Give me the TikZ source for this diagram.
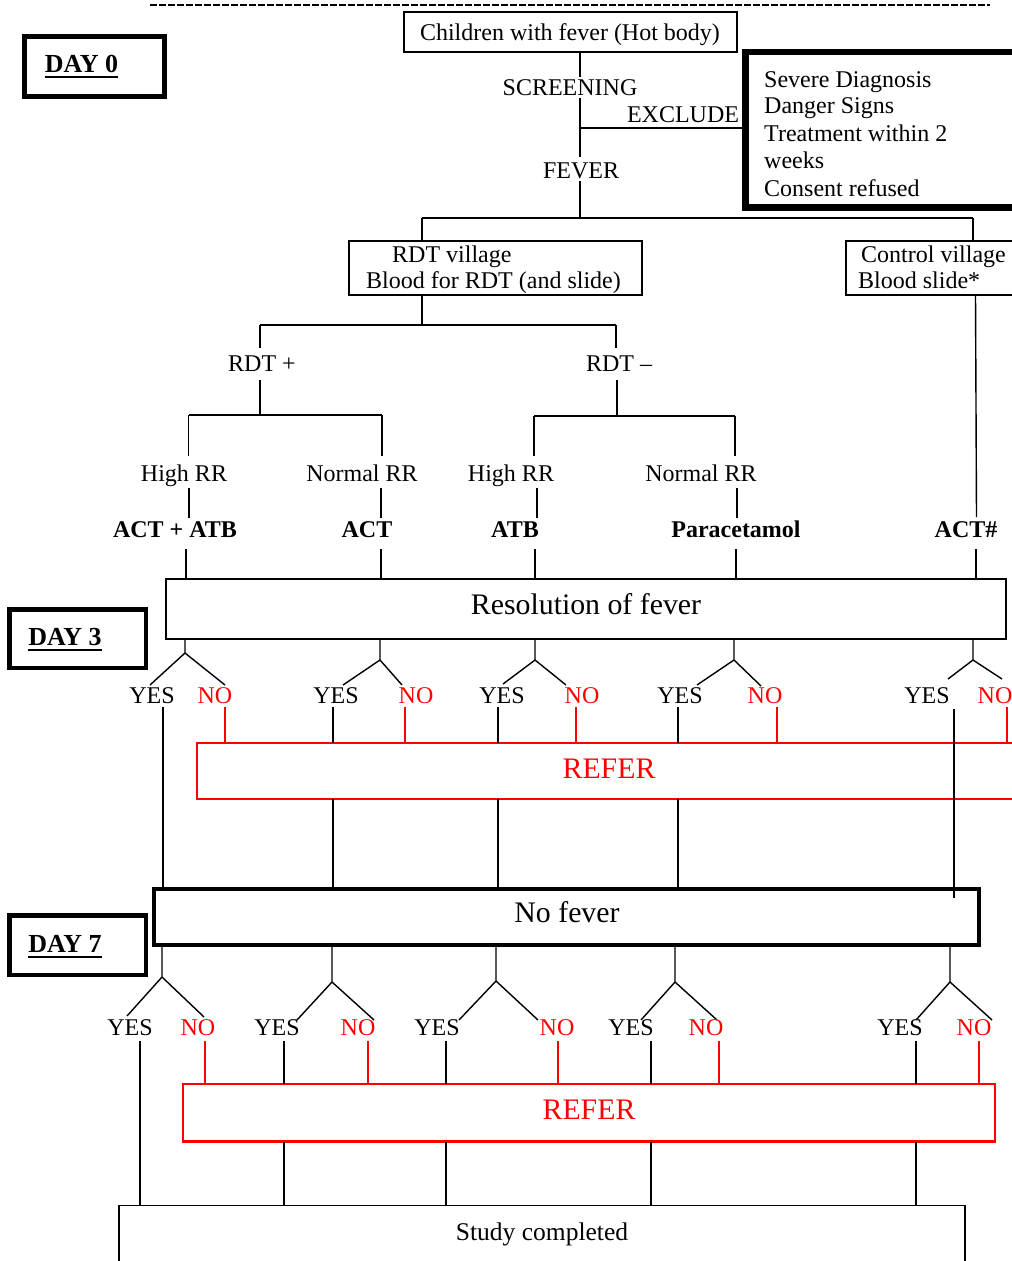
\documentclass[tikz,border=0pt]{standalone}
\usepackage{fontspec}
\setmainfont{Liberation Serif}
\definecolor{refred}{RGB}{255,0,0}
\begin{document}
\begin{tikzpicture}[x=1pt,y=-1pt,
  txt/.style={inner sep=0pt, text height=15.9pt, text depth=0pt, font=\fontsize{24}{27.5}\selectfont},
  boldtxt/.style={inner sep=0pt, text height=15.9pt, text depth=0pt, font=\fontsize{24}{27.5}\selectfont\bfseries},
  daytxt/.style={inner sep=0pt, text height=17.2pt, text depth=0pt, font=\fontsize{26}{30}\selectfont\bfseries},
  bigtxt/.style={inner sep=0pt, text height=19.7pt, text depth=0pt, font=\fontsize{29.8}{34}\selectfont},
  midtxt/.style={inner sep=0pt, text height=16.8pt, text depth=0pt, font=\fontsize{25.5}{30}\selectfont},
  box/.style={draw, inner sep=0pt},
  conn/.style={line width=1.4pt},
  redconn/.style={line width=1.4pt, draw=refred},
]
\useasboundingbox (0,0) rectangle (1012,1261);
\clip (0,0) rectangle (1012,1261);
\fill[white] (0,0) rectangle (1012,1261);

% top dashed rule
\coordinate (dl) at (150,5);
\coordinate (dr) at (990,5);
\draw[line width=1.8pt, dash pattern=on 7pt off 2pt] (dl) -- (dr);

% DAY boxes
\node[box, line width=5pt, minimum width=139.5pt, minimum height=60pt] (day0box) at (94.25,66.5) {};
\node[daytxt] (day0) at (81.5,64) {DAY 0};
\draw[line width=2.2pt] ([yshift=-4pt]day0.south west) -- ([yshift=-4pt]day0.south east);
\node[box, line width=4.5pt, minimum width=136.5pt, minimum height=58.5pt] (day3box) at (77.75,638.75) {};
\node[daytxt] (day3) at (65,637) {DAY 3};
\draw[line width=2.2pt] ([yshift=-4pt]day3.south west) -- ([yshift=-4pt]day3.south east);
\node[box, line width=4.5pt, minimum width=136.5pt, minimum height=59.5pt] (day7box) at (77.75,945.25) {};
\node[daytxt] (day7) at (65,944) {DAY 7};
\draw[line width=2.2pt] ([yshift=-4pt]day7.south west) -- ([yshift=-4pt]day7.south east);

% top box
\node[box, line width=1.5pt, minimum width=333pt, minimum height=40pt] (child) at (570.5,32) {};
\node[txt] (childtxt) at (570,32.5) {Children with fever (Hot body)};
\node[txt] (scr) at (570,87.5) {SCREENING};
\node[txt] (excl) at (683,115) {EXCLUDE};
\node[txt] (fev) at (581,171) {FEVER};

% exclusion box
\node[box, line width=6.5pt, minimum width=300pt, minimum height=155.5pt] (exbox) at (895.5,129.75) {};
\node[txt, anchor=west] (ex1) at (764,79.5) {Severe Diagnosis};
\node[txt, anchor=west] (ex2) at (764,106) {Danger Signs};
\node[txt, anchor=west] (ex3) at (764,133.5) {Treatment within 2};
\node[txt, anchor=west] (ex4) at (764,160.5) {weeks};
\node[txt, anchor=west] (ex5) at (764,188.5) {Consent refused};

% trunk
\coordinate (t0) at (580,53);
\coordinate (t1) at (580,77);
\coordinate (t2) at (580,98);
\coordinate (t3) at (580,157);
\coordinate (t4) at (580,181);
\coordinate (t5) at (580,218);
\coordinate (tex) at (580,128);
\coordinate (exl) at (742.5,128);
\draw[conn] (t0) -- (t1);
\draw[conn] (t2) -- (t3);
\draw[conn] (tex) -- (exl);
\draw[conn] (t4) -- (t5);
\coordinate (hl) at (422,218);
\coordinate (hr) at (973,218);
\draw[conn] (hl) -- (hr);

% villages
\node[box, line width=1.5pt, minimum width=293pt, minimum height=54pt] (rdt) at (495.5,268) {};
\node[txt, anchor=west] (rdt1) at (392,254.5) {RDT village};
\node[txt, anchor=west] (rdt2) at (366,280.5) {Blood for RDT (and slide)};
\node[box, line width=1.5pt, minimum width=200pt, minimum height=54pt] (ctl) at (946,268) {};
\node[txt, anchor=west] (ctl1) at (861,254.5) {Control village};
\node[txt, anchor=west] (ctl2) at (858,280.5) {Blood slide*};
\coordinate (rdttop) at (422,241);
\coordinate (ctltop) at (973,241);
\draw[conn] (hl) -- (rdttop);
\draw[conn] (hr) -- (ctltop);

% RDT split
\coordinate (r0) at (422,325);
\draw[conn] (422,295) -- (r0);
\draw[conn] (260,325) -- (616,325);
\node[txt] (rdtp) at (262,364) {RDT +};
\node[txt] (rdtm) at (619,364) {RDT \textendash};
\draw[conn] (260,325) -- (260,348);
\draw[conn] (616,325) -- (616,348);
\draw[conn] (260,380) -- (260,415);
\draw[conn] (617,380) -- (617,416);
\draw[conn] (188.5,415) -- (382,415);
\draw[conn] (534,416) -- (735,416);

\node[txt] (hrr1) at (184,474) {High RR};
\node[txt] (nrr1) at (362,474) {Normal RR};
\node[txt] (hrr2) at (511,474) {High RR};
\node[txt] (nrr2) at (701,474) {Normal RR};
\draw[conn] (188.5,415) -- (188.5,456);
\draw[conn] (382,415) -- (382,456);
\draw[conn] (534,416) -- (534,456);
\draw[conn] (735,416) -- (735,456);

\node[boldtxt] (tr1) at (175,530) {ACT + ATB};
\node[boldtxt] (tr2) at (367,530) {ACT};
\node[boldtxt] (tr3) at (515,530) {ATB};
\node[boldtxt] (tr4) at (736,530) {Paracetamol};
\node[boldtxt] (tr5) at (966,530) {ACT\#};
\draw[conn] (189,488) -- (189,518);
\draw[conn] (381,488) -- (381,518);
\draw[conn] (537,488) -- (537,518);
\draw[conn] (737,488) -- (737,518);
\draw[conn] (975.5,295) -- (976.5,517);

% resolution box
\node[box, line width=2pt, minimum width=840pt, minimum height=59.5pt] (res) at (586,608.75) {};
\node[bigtxt] (restxt) at (586,605) {Resolution of fever};
\foreach \x in {186,381,535,736,976} {
  \draw[conn] (\x,549) -- (\x,579);
}

% REFER (day 3)
\node[box, draw=refred, line width=2pt, minimum width=850pt, minimum height=56pt] (ref3) at (622,771) {};
\node[bigtxt, text=refred] (ref3txt) at (609,769) {REFER};

% no fever box
\node[box, line width=4pt, minimum width=825pt, minimum height=56.5pt] (nof) at (566.5,916.75) {};
\node[bigtxt] (noftxt) at (567,913) {No fever};

% day 3 branches
\foreach \n/\tx/\ay/\lx/\ly/\rx/\ry/\yx/\nx/\nl in {
 1/185/653/150/685/225/685/152/215/225,
 2/380/660/343/685/402/685/336/416/405,
 3/535/660/503/684/566/685/502/582/576,
 4/734/660/697/685/761/686/680/765/777,
 5/973/660/948/679/1002/679/927/995/1007}{
  \coordinate (apa\n) at (\tx,\ay);
  \draw[conn] (\tx,639) -- (apa\n) -- (\lx,\ly);
  \draw[conn] (apa\n) -- (\rx,\ry);
  \node[txt] (yesa\n) at (\yx,696) {YES};
  \node[txt, text=refred] (noa\n) at (\nx,696) {NO};
  \draw[redconn] (\nl,707) -- (\nl,743);
}
\draw[conn] (163,707) -- (163,888.5);
\foreach \x in {333,498,678} {
  \draw[conn] (\x,707) -- (\x,743);
  \draw[conn] (\x,799) -- (\x,888.5);
}
\draw[conn] (954,709) -- (954,898);

% REFER (day 7)
\node[box, draw=refred, line width=2.7pt, minimum width=812pt, minimum height=57.5pt] (ref7) at (589,1112.75) {};
\node[bigtxt, text=refred] (ref7txt) at (589,1110) {REFER};

% study completed
\node[box, line width=1.5pt, minimum width=846pt, minimum height=100pt] (study) at (542,1255.5) {};
\node[midtxt] (studytxt) at (542,1232) {Study completed};

% day 7 branches
\foreach \n/\tx/\ay/\lx/\ly/\rx/\ry/\yx/\nx/\nl in {
 1/162/977/127/1016/204/1017/130/198/205,
 2/332/982/297/1020/374/1020/277/358/368,
 3/496/981/459/1020/538/1020/437/557/558,
 4/675/982/641/1020/717/1020/631/706/719,
 5/950/982/916/1020/992/1020/900/974/979}{
  \coordinate (apb\n) at (\tx,\ay);
  \draw[conn] (\tx,945) -- (apb\n) -- (\lx,\ly);
  \draw[conn] (apb\n) -- (\rx,\ry);
  \node[txt] (yesb\n) at (\yx,1028) {YES};
  \node[txt, text=refred] (nob\n) at (\nx,1028) {NO};
  \draw[redconn] (\nl,1041) -- (\nl,1084);
}
\draw[conn] (140,1041) -- (140,1205.5);
\foreach \x in {284,446,651,916} {
  \draw[conn] (\x,1041) -- (\x,1084);
  \draw[conn] (\x,1141.5) -- (\x,1205.5);
}
\end{tikzpicture}
\end{document}
